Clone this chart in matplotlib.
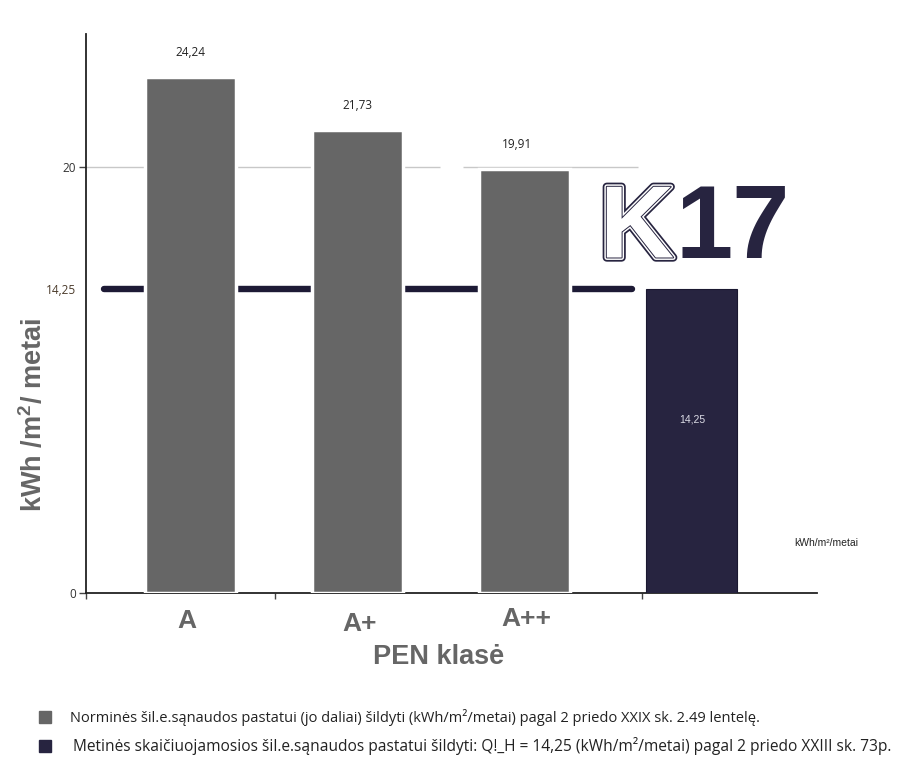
import numpy as np
import matplotlib
matplotlib.use("Agg")
import matplotlib.pyplot as plt
import matplotlib.patheffects as pe

# ---- data ----
categories = ["A", "A+", "A++", ""]
norm_values = [24.24, 21.73, 19.91]
calc_value = 14.25
value_labels = ["24,24", "21,73", "19,91"]
calc_label = "14,25"
ytick_values = [0, 14.25, 20]
ytick_labels = ["0", "14,25", "20"]
legend_labels = [
    "Norminės šil.e.sąnaudos pastatui (jo daliai) šildyti (kWh/m²/metai) pagal 2 priedo XXIX sk. 2.49 lentelę.",
    "Metinės skaičiuojamosios šil.e.sąnaudos pastatui šildyti: Q!_H = 14,25 (kWh/m²/metai) pagal 2 priedo XXIII sk. 73p.",
]
ylabel = "kWh /m$^{\\mathbf{2}}$/ metai"
xlabel = "PEN klasė"
unit_text = "kWh/m²/metai"
logo_parts = ["K", "17"]

GRAY = "#666666"
DARK = "#272440"
LINE = "#1d1a35"

W, H = 916, 768
fig = plt.figure(figsize=(W / 100, H / 100), dpi=100)
fig.patch.set_facecolor("white")
plt.rcParams["mathtext.fontset"] = "custom"
plt.rcParams["mathtext.bf"] = "Liberation Sans:bold"
plt.rcParams["mathtext.rm"] = "Liberation Sans"

# axes placement (pixels)
ax_l, ax_r, ax_t, ax_b = 86, 817, 34, 593
ax = fig.add_axes([ax_l / W, (H - ax_b) / H, (ax_r - ax_l) / W, (ax_b - ax_t) / H])

spacing_px = 167.3
c0_px = 190
px_per_unit = 21.3

def px2x(px):
    return (px - c0_px) / spacing_px

ax.set_xlim(px2x(ax_l), px2x(ax_r))
ax.set_ylim(0, (ax_b - ax_t) / px_per_unit)

pos = np.arange(len(categories))
bw = 91 / spacing_px

# gridline at 20
ax.hlines(20, px2x(ax_l), px2x(440), color="#c8c8c8", lw=1.0, zorder=1)
ax.hlines(20, px2x(463), px2x(638), color="#c8c8c8", lw=1.0, zorder=1)

# reference line at calc value
ax.hlines(calc_value, px2x(104), px2x(632), color=LINE, lw=4.6, zorder=2,
          capstyle="round")

# bars
ax.bar(pos[:3], norm_values, width=bw, color=GRAY, edgecolor="white",
       linewidth=2.5, zorder=3)
ax.bar(pos[3], calc_value, width=bw, color=DARK, edgecolor="#1a1830",
       linewidth=0.8, zorder=3)

# value labels
label_dx = [0, 0, -8 / spacing_px]
for i, (v, t) in enumerate(zip(norm_values, value_labels)):
    ax.annotate(t, (pos[i] + label_dx[i], v), xytext=(0, 13), textcoords="offset points",
                ha="center", va="bottom", fontsize=8.5, color="#222222",
                family=["Open Sans", "DejaVu Sans"])
ax.text(pos[3], calc_value - 130 / px_per_unit, calc_label, ha="center", va="center",
        fontsize=7.5, color="#dcdce6", family=["Liberation Sans", "DejaVu Sans"])

# spines
for s in ["top", "right"]:
    ax.spines[s].set_visible(False)
ax.spines["left"].set_color("#222222")
ax.spines["bottom"].set_color("#222222")
ax.spines["left"].set_linewidth(1.3)
ax.spines["bottom"].set_linewidth(1.3)

ax.set_yticks(ytick_values)
ax.set_yticklabels(ytick_labels, fontsize=8.5, color="#333333",
                   family=["Open Sans", "DejaVu Sans"])
ax.tick_params(axis="y", length=5, width=1, color="#444444", pad=2)
ax.get_yticklabels()[1].set_color("#4a3a2a")
ax.yaxis.get_major_ticks()[1].tick1line.set_visible(False)

ax.set_xticks([px2x(86), px2x(275), px2x(642)])
ax.set_xticklabels(["", "", ""])
ax.tick_params(axis="x", length=4, width=1, color="#444444")

# category labels
cat_y_px = [621, 624, 619]
cat_dx = [-3, 2, 2]
for i, c in enumerate(categories[:3]):
    fig.text((c0_px + i * spacing_px + cat_dx[i]) / W, 1 - cat_y_px[i] / H, c,
             ha="center", va="center", fontsize=19, fontweight="bold", color=GRAY,
             family=["Liberation Sans", "DejaVu Sans"])

fig.text(439 / W, 1 - 657 / H, xlabel, ha="center", va="center", fontsize=19.5,
         fontweight="bold", color=GRAY,
         family=["Liberation Sans", "DejaVu Sans"])

fig.text(34 / W, 1 - 415 / H, ylabel, ha="center", va="center", rotation=90,
         fontsize=19.5, fontweight="bold", color=GRAY,
         family=["Liberation Sans", "DejaVu Sans"])

fig.text(826 / W, 1 - 543 / H, unit_text, ha="center", va="center", fontsize=7.5,
         color="#222222", family=["Liberation Sans", "DejaVu Sans"])

# logo
logo_kw = dict(va="center", fontsize=74, fontweight="bold",
               family=["Liberation Sans", "DejaVu Sans"])
fig.text(637 / W, 1 - 231 / H, logo_parts[0], color="white", ha="center",
         path_effects=[pe.Stroke(linewidth=6, foreground=DARK),
                       pe.Stroke(linewidth=3.5, foreground="white"),
                       pe.Stroke(linewidth=1.4, foreground=DARK),
                       pe.Normal()], **logo_kw)
fig.text(676 / W, 1 - 231 / H, logo_parts[1], color=DARK, ha="left", **logo_kw)

# legend
leg_colors = [GRAY, DARK]
leg_y = [717, 746]
leg_x = [70, 73]
leg_fs = [10.5, 11.2]
for c, y, x, t, fs in zip(leg_colors, leg_y, leg_x, legend_labels, leg_fs):
    fig.patches.append(plt.Rectangle((39 / W, 1 - (y + 6) / H), 12 / W, 12 / H,
                                     transform=fig.transFigure, color=c))
    fig.text(x / W, 1 - y / H, t, ha="left", va="center", fontsize=fs,
             color="#222222", family=["Open Sans", "DejaVu Sans"])

fig.savefig("out.png", dpi=100, facecolor="white")
